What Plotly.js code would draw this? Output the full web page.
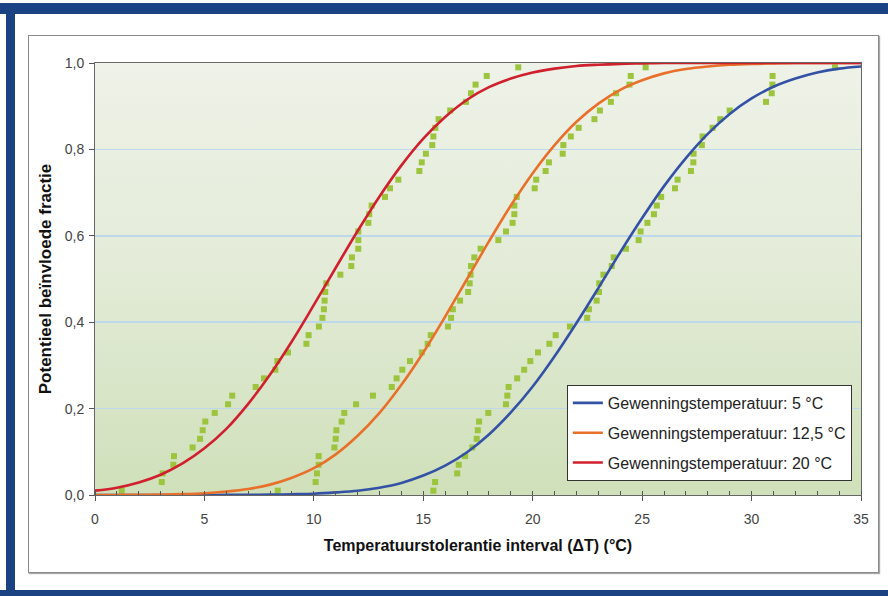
<!DOCTYPE html>
<html>
<head>
<meta charset="utf-8">
<script src="https://cdn.plot.ly/plotly-3.0.1.min.js"></script>
<style>
html,body{margin:0;padding:0;background:#ffffff;width:888px;height:596px;overflow:hidden;}
#frameTop{position:absolute;left:0;top:3px;width:888px;height:11px;background:#1b4384;}
#frameLeft{position:absolute;left:6px;top:3px;width:9px;height:593px;background:#1b4384;}
#frameBottom{position:absolute;left:0;top:590px;width:888px;height:6px;background:#1b4384;}
#box{position:absolute;left:28px;top:35px;width:849px;height:536px;border:1px solid #8a8a8a;box-shadow:1px 1px 1px #aaaaaa;background:#ffffff;}
#bg{position:absolute;left:95px;top:63px;width:766px;height:432px;background:linear-gradient(to bottom,#eef2e8 0%,#e4ecd9 45%,#cfe0ba 100%);}
#chart{position:absolute;left:0;top:0;width:888px;height:596px;}
</style>
</head>
<body>
<div id="frameTop"></div>
<div id="frameLeft"></div>
<div id="frameBottom"></div>
<div id="box"></div>
<div id="bg"></div>
<div id="chart"></div>
<script>
// Temperature interval (°C) at which the fitted curves are sampled
const curveX = [0,1,2,3,4,5,6,7,8,9,10,11,12,13,14,15,16,17,18,19,20,21,22,23,24,25,26,27,28,29,30,31,32,33,34,35];

// Fitted curves
const curve5 = [0,0,0,0,0,0.0001,0.0002,0.0004,0.0008,0.0017,0.003,0.006,0.010,0.017,0.028,0.045,0.068,0.099,0.140,0.191,0.251,0.321,0.398,0.479,0.562,0.641,0.715,0.780,0.836,0.882,0.918,0.945,0.964,0.978,0.987,0.992];
const curve125 = [0,0,0.0005,0.001,0.002,0.004,0.008,0.014,0.024,0.040,0.062,0.094,0.137,0.190,0.255,0.330,0.413,0.500,0.587,0.670,0.745,0.810,0.864,0.906,0.938,0.960,0.976,0.986,0.992,0.996,0.998,0.999,1,1,1,1];
const curve20 = [0.010,0.017,0.029,0.047,0.073,0.108,0.153,0.211,0.279,0.356,0.440,0.526,0.611,0.691,0.763,0.825,0.875,0.915,0.944,0.964,0.978,0.987,0.993,0.996,0.998,0.999,1,1,1,1,1,1,1,1,1,1];

// Cumulative fraction levels of the observed points
const fractions = [0.01,0.03,0.05,0.07,0.09,0.11,0.13,0.15,0.17,0.19,0.21,0.23,0.25,0.27,0.29,0.31,0.33,0.35,0.37,0.39,0.41,0.43,0.45,0.47,0.49,0.51,0.53,0.55,0.57,0.59,0.61,0.63,0.65,0.67,0.69,0.71,0.73,0.75,0.77,0.79,0.81,0.83,0.85,0.87,0.89,0.91,0.93,0.95,0.97,0.99];

// Observed points (ΔT) for each acclimation temperature
const obs5 = [15.46,15.54,16.55,16.62,16.91,17.24,17.44,17.49,17.55,17.97,18.78,18.84,18.90,19.29,19.61,19.89,20.24,20.76,21.05,21.70,22.49,22.57,22.92,23.03,23.04,23.23,23.61,23.70,24.26,24.84,24.93,25.24,25.54,25.67,25.87,26.50,26.62,27.23,27.34,27.35,27.73,27.76,28.22,28.57,29.00,30.66,30.92,30.95,30.96,33.81];
const obs125 = [8.35,10.08,10.14,10.22,10.22,10.94,11.00,11.03,11.27,11.39,11.93,12.70,13.56,13.78,14.04,14.39,14.93,15.20,15.34,16.13,16.27,16.35,16.68,17.05,17.12,17.16,17.18,17.33,17.62,18.43,18.78,19.08,19.16,19.16,19.27,20.09,20.16,20.59,20.74,21.37,21.40,21.74,22.10,22.82,23.07,23.57,23.81,24.42,24.48,25.16];
const obs20 = [1.22,3.05,3.09,3.58,3.61,4.46,4.80,4.92,5.04,5.47,6.08,6.27,7.34,7.72,8.24,8.33,8.82,9.66,9.76,10.23,10.39,10.46,10.49,10.52,10.57,11.21,11.71,11.74,12.03,12.03,12.03,12.49,12.53,12.64,13.25,13.48,13.86,14.82,14.93,15.12,15.41,15.46,15.55,15.70,16.23,16.95,17.18,17.39,17.90,19.34];

const seriesNames = ['Gewenningstemperatuur: 5 °C','Gewenningstemperatuur: 12,5 °C','Gewenningstemperatuur: 20 °C'];
const yTicks = [0,0.2,0.4,0.6,0.8,1.0];
const xTicks = [0,5,10,15,20,25,30,35];

const FONT = '"Liberation Sans", Arial, sans-serif';
const markerStyle = {symbol:'square', size:6, color:'#9cc43c', line:{width:0}};

const traces = [];
[obs5, obs125, obs20].forEach(function(xs){
  traces.push({x: xs, y: fractions, type:'scatter', mode:'markers', marker: markerStyle, showlegend:false, hoverinfo:'skip', cliponaxis:false});
});
const curveColors = ['#3352a6','#e8702a','#d01f2d'];
[curve5, curve125, curve20].forEach(function(ys, i){
  traces.push({x: curveX, y: ys, type:'scatter', mode:'lines', name: seriesNames[i],
    legendgroup:'g'+i, line:{color: curveColors[i], width:2.6, shape:'spline', smoothing:1}});
});

const layout = {
  width: 888, height: 596,
  margin: {l:95, r:27, t:63, b:101, pad:0},
  paper_bgcolor: 'rgba(0,0,0,0)',
  plot_bgcolor: 'rgba(0,0,0,0)',
  separators: ',.',
  font: {family: FONT, size: 14, color: '#444444'},
  showlegend: true,
  legend: {
    x: 0.616, y: 0.2546, xanchor:'left', yanchor:'top',
    bgcolor:'#ffffff', bordercolor:'#333333', borderwidth:1,
    font:{family: FONT, size:16, color:'#222222'},
    traceorder:'grouped', tracegroupgap:6
  },
  xaxis: {
    range:[0,35], tickvals: xTicks, ticks:'outside', ticklen:5, tickwidth:1, tickcolor:'#555555',
    minor:{dtick:1, ticks:'inside', ticklen:4, tickcolor:'#555555', showgrid:false},
    showline:true, linecolor:'#666666', linewidth:1, mirror:true,
    showgrid:false, zeroline:false, ticklabelstandoff:6,
    tickfont:{family: FONT, size:14, color:'#444444'},
    title:{text:'Temperatuurstolerantie interval (ΔT) (°C)', standoff:14,
      font:{family: FONT, size:16, color:'#111111', weight:'bold'}}
  },
  yaxis: {
    range:[0,1], tickvals: yTicks, tickformat:'.1f', ticks:'outside', ticklen:5, tickwidth:1, tickcolor:'#555555',
    showline:true, linecolor:'#666666', linewidth:1, mirror:true,
    showgrid:true, gridcolor:'#bcd8ea', gridwidth:1.5, zeroline:false, ticklabelstandoff:2,
    tickfont:{family: FONT, size:14, color:'#444444'},
    title:{text:'Potentieel beïnvloede fractie', standoff:8,
      font:{family: FONT, size:17, color:'#111111', weight:'bold'}}
  }
};

Plotly.newPlot('chart', traces, layout, {staticPlot:true, displayModeBar:false});
</script>
</body>
</html>
